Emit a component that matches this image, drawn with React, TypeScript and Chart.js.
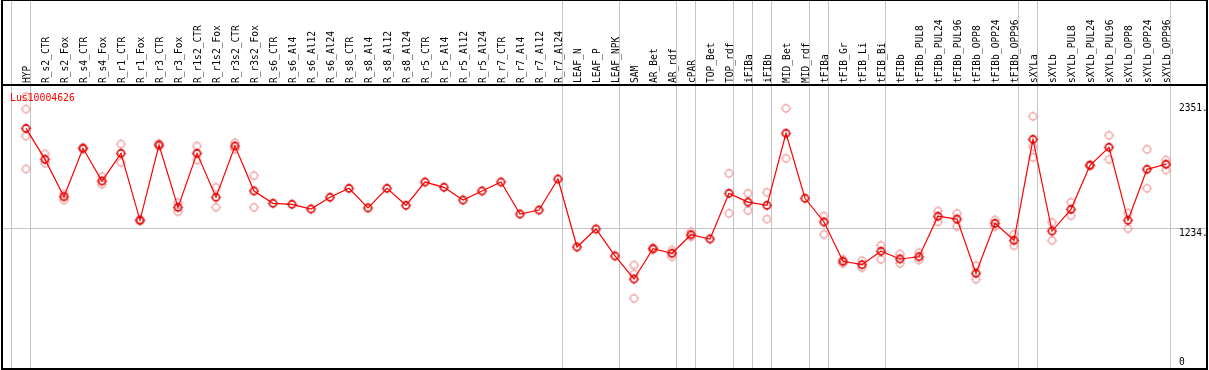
import React, { useEffect, useRef } from "react";
import { Chart, registerables } from "chart.js";

Chart.register(...registerables);

const seriesName = "Lus10004626";

const categories = [
  "HYP", "R_s2_CTR", "R_s2_Fox", "R_s4_CTR", "R_s4_Fox", "R_r1_CTR", "R_r1_Fox", "R_r3_CTR", "R_r3_Fox",
  "R_r1s2_CTR", "R_r1s2_Fox", "R_r3s2_CTR", "R_r3s2_Fox", "R_s6_CTR", "R_s6_Al4", "R_s6_Al12", "R_s6_Al24",
  "R_s8_CTR", "R_s8_Al4", "R_s8_Al12", "R_s8_Al24", "R_r5_CTR", "R_r5_Al4", "R_r5_Al12", "R_r5_Al24",
  "R_r7_CTR", "R_r7_Al4", "R_r7_Al12", "R_r7_Al24", "LEAF_N", "LEAF_P", "LEAF_NPK", "SAM", "AR_Bet", "AR_rdf",
  "cPAR", "TOP_Bet", "TOP_rdf", "iFIBa", "iFIBb", "MID_Bet", "MID_rdf", "tFIBa", "tFIB_Gr", "tFIB_Li", "tFIB_Bi",
  "tFIBb", "tFIBb_PUL8", "tFIBb_PUL24", "tFIBb_PUL96", "tFIBb_OPP8", "tFIBb_OPP24", "tFIBb_OPP96",
  "sXYLa", "sXYLb", "sXYLb_PUL8", "sXYLb_PUL24", "sXYLb_PUL96", "sXYLb_OPP8", "sXYLb_OPP24", "sXYLb_OPP96",
];

const meanValues = [
  2125, 1848, 1514, 1947, 1654, 1902, 1303, 1976, 1419, 1902, 1509, 1967, 1565,
  1455, 1446, 1404, 1509, 1589, 1413, 1589, 1437, 1645, 1598, 1484, 1565, 1645, 1359, 1395, 1672,
  1064, 1225, 984, 778, 1049, 1008, 1174, 1136, 1544, 1466, 1437, 2081, 1500,
  1288, 936, 906, 1026, 957, 977, 1339, 1314, 829, 1276, 1124,
  2027, 1207, 1401, 1795, 1956, 1303, 1759, 1804,
];

const rep1 = [
  2408, 1896, 1538, 1955, 1693, 1985, 1308, 1990, 1460, 1967, 1598, 1997, 1702,
  null, null, null, null, null, null, null, null, null, null, null, null, null, null, null, null,
  null, null, null, 903, 1058, 1037, 1201, null, 1723, 1544, 1553, 2304, null,
  1341, 954, 942, 1079, 1002, 1013, 1386, 1365, 897, 1306, 1178,
  2233, 1285, 1464, 1800, 2063, 1368, 1938, 1842,
];

const rep2 = [
  2298, 1813, 1484, 1940, 1625, 1821, 1298, 1968, 1380, 1842, 1419, 1938, 1419,
  null, null, null, null, null, null, null, null, null, null, null, null, null, null, null, null,
  null, null, null, 823, 1040, 977, 1156, null, 1365, 1392, 1314, 1857, null,
  1178, 918, 879, 954, 918, 948, 1290, 1249, 775, 1246, 1076,
  1961, 1124, 1344, 1790, 1848, 1228, 1589, 1753,
];

const rep3 = categories.map((_, i) => (i === 0 ? 2057 : i === 32 ? 605 : i === 53 ? 1866 : null));
const rep4 = categories.map((_, i) => (i === 0 ? 1762 : null));

const groupBoundaries = [0, 1, 29, 32, 35, 36, 38, 39, 40, 42, 43, 46, 53, 54, 61];

const yTickValues = [0, 1234, 2351];
const yTickLabels = ["0", "1234.", "2351."];
const gridValue = 1234;

const FONT = "9.6px 'DejaVu Sans Mono', monospace";

function makeMarker(color: string, lw: number): HTMLCanvasElement {
  const c = document.createElement("canvas");
  c.width = 13;
  c.height = 13;
  const g = c.getContext("2d")!;
  g.strokeStyle = color;
  g.lineWidth = lw;
  g.beginPath();
  g.arc(6.5, 6.5, 3.6, 0, Math.PI * 2);
  g.stroke();
  g.lineWidth = 1;
  g.beginPath();
  g.moveTo(6.5, 1.5);
  g.lineTo(6.5, 2.8);
  g.moveTo(6.5, 10.2);
  g.lineTo(6.5, 11.5);
  g.moveTo(1.5, 6.5);
  g.lineTo(2.8, 6.5);
  g.moveTo(10.2, 6.5);
  g.lineTo(11.5, 6.5);
  g.stroke();
  return c;
}

const toPts = (arr: (number | null)[]) => arr.map((v, i) => ({ x: i, y: v }));

export default function App() {
  const ref = useRef<HTMLCanvasElement>(null);

  useEffect(() => {
    document.body.style.margin = "0";
    const canvas = ref.current!;
    const mainMarker = makeMarker("#e00000", 1.6);
    const repMarker = makeMarker("#ef9a9a", 1.3);

    const framePlugin = {
      id: "frame",
      beforeDraw(chart: any) {
        const ctx = chart.ctx;
        ctx.save();
        ctx.fillStyle = "#ffffff";
        ctx.fillRect(0, 0, chart.width, chart.height);
        ctx.restore();
      },
      beforeDatasetsDraw(chart: any) {
        const { ctx } = chart;
        const xs = chart.scales.x;
        const ys = chart.scales.y;
        ctx.save();
        ctx.strokeStyle = "#c4c4c4";
        ctx.lineWidth = 1;
        const gy = Math.round(ys.getPixelForValue(gridValue)) + 0.5;
        ctx.beginPath();
        ctx.moveTo(2, gy);
        ctx.lineTo(1206, gy);
        ctx.stroke();
        for (const b of groupBoundaries) {
          const px = Math.round(xs.getPixelForValue(b - 15 / 19)) + 0.5;
          ctx.beginPath();
          ctx.moveTo(px, 0);
          ctx.lineTo(px, 368);
          ctx.stroke();
        }
        ctx.restore();
      },
      afterDraw(chart: any) {
        const { ctx } = chart;
        const xs = chart.scales.x;
        const ys = chart.scales.y;
        ctx.save();
        ctx.fillStyle = "#000";
        ctx.fillRect(1, 0, 1207, 1);
        ctx.fillRect(1, 84, 1207, 2);
        ctx.fillRect(1, 0, 2, 370);
        ctx.fillRect(1206, 0, 2, 370);
        ctx.fillRect(1, 368, 1207, 2);
        ctx.font = FONT;
        ctx.fillStyle = "#000";
        ctx.textAlign = "left";
        ctx.textBaseline = "alphabetic";
        categories.forEach((name, i) => {
          const px = xs.getPixelForValue(i);
          ctx.save();
          ctx.translate(px + 4, 83);
          ctx.rotate(-Math.PI / 2);
          ctx.fillText(name, 0, 0);
          ctx.restore();
        });
        ctx.textBaseline = "top";
        yTickValues.forEach((v, k) => {
          let py = ys.getPixelForValue(v) + 1;
          if (py > 358) py = 358;
          ctx.fillText(yTickLabels[k], 1179, py);
        });
        ctx.fillStyle = "#ff0000";
        ctx.font = "9.8px 'DejaVu Sans Mono', monospace";
        ctx.textBaseline = "alphabetic";
        ctx.fillText(seriesName, 10, 101);
        ctx.restore();
      },
    };

    // chart area: left 7, right 1202 (19 px per column), top 86, bottom 363
    const xMin = -1;
    const xMax = xMin + 1195 / 19;
    const yMax = 2504;
    const yMin = 3 / 0.11183;

    const repDs = (arr: (number | null)[]) => ({
      data: toPts(arr),
      showLine: false,
      pointStyle: repMarker,
      pointRadius: 5,
      borderColor: "#ef9a9a",
      backgroundColor: "#ef9a9a",
    });

    const chart = new Chart(canvas, {
      type: "line",
      data: {
        datasets: [
          {
            data: toPts(meanValues),
            borderColor: "#ff0000",
            backgroundColor: "#ff0000",
            borderWidth: 1.2,
            pointStyle: mainMarker,
            pointRadius: 5,
            tension: 0,
          },
          repDs(rep1),
          repDs(rep2),
          repDs(rep3),
          repDs(rep4),
        ],
      },
      options: {
        animation: false,
        responsive: false,
        devicePixelRatio: 1,
        layout: { padding: { left: 7, right: 7, top: 86, bottom: 7 } },
        plugins: { legend: { display: false }, tooltip: { enabled: false } },
        scales: {
          x: { type: "linear", min: xMin, max: xMax, display: false },
          y: { type: "linear", min: yMin, max: yMax, display: false },
        },
      },
      plugins: [framePlugin],
    });
    return () => chart.destroy();
  }, []);

  return (
    <div style={{ position: "absolute", left: 0, top: 0 }}>
      <canvas ref={ref} width={1209} height={370} style={{ display: "block" }} />
    </div>
  );
}
